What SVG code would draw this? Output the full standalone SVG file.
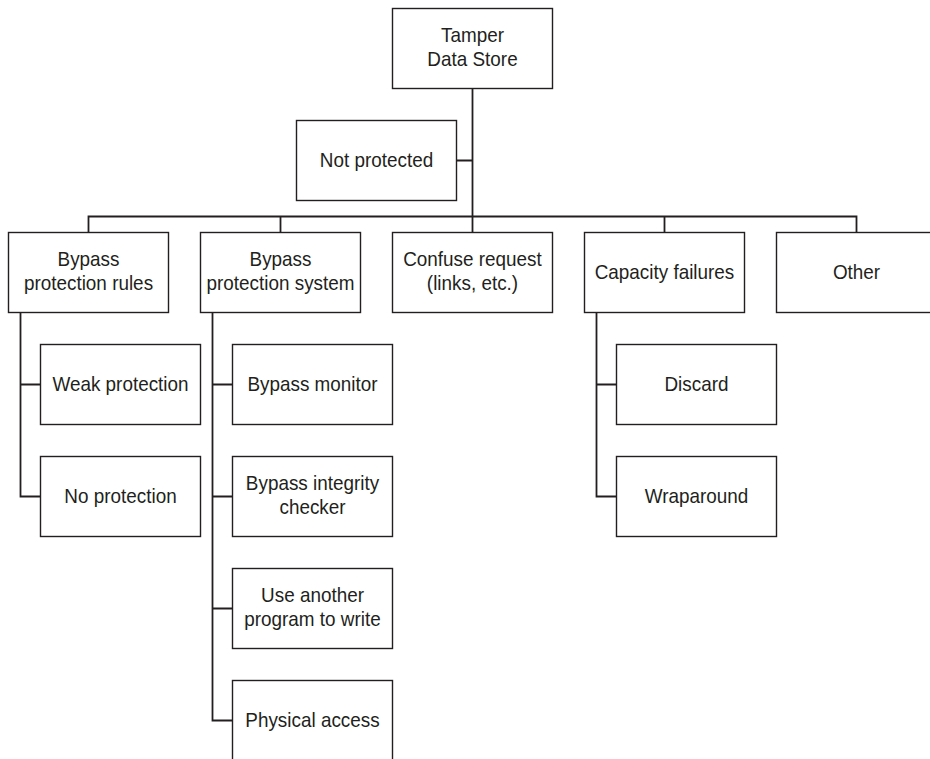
<svg xmlns="http://www.w3.org/2000/svg" width="930" height="759" viewBox="0 0 930 759">
<style>
.box{fill:#fff;stroke:#231f20;stroke-width:1.4}
.ln{fill:none;stroke:#231f20;stroke-width:1.8}
text{font-family:"Liberation Sans",Arial,sans-serif;font-size:21px;fill:#231f20;text-anchor:middle}
</style>
<rect width="930" height="759" fill="#fff"/>
<g id="connectors">
<path class="ln" d="M472.5,88.5V232.5M456.5,160.5H472.5"/>
<path class="ln" d="M88.5,232.5V216.5H856.5V232.5M280.5,216.5V232.5M664.5,216.5V232.5"/>
<path class="ln" d="M20.5,312.5V496.5H40.5M20.5,384.5H40.5"/>
<path class="ln" d="M212.5,312.5V720.5H232.5M212.5,384.5H232.5M212.5,496.5H232.5M212.5,608.5H232.5"/>
<path class="ln" d="M596.5,312.5V496.5H616.5M596.5,384.5H616.5"/>
</g>
<g id="n-root"><rect class="box" x="392.5" y="8.5" width="160" height="80"/><text transform="translate(472.5,42) scale(0.9,1)">Tamper</text><text transform="translate(472.5,66) scale(0.9,1)">Data Store</text></g>
<g id="n-notprot"><rect class="box" x="296.5" y="120.5" width="160" height="80"/><text transform="translate(376.5,167) scale(0.9,1)">Not protected</text></g>
<g id="n-bpr"><rect class="box" x="8.5" y="232.5" width="160" height="80"/><text transform="translate(88.5,266) scale(0.9,1)">Bypass</text><text transform="translate(88.5,290) scale(0.9,1)">protection rules</text></g>
<g id="n-bps"><rect class="box" x="200.5" y="232.5" width="160" height="80"/><text transform="translate(280.5,266) scale(0.9,1)">Bypass</text><text transform="translate(280.5,290) scale(0.9,1)">protection system</text></g>
<g id="n-confuse"><rect class="box" x="392.5" y="232.5" width="160" height="80"/><text transform="translate(472.5,266) scale(0.9,1)">Confuse request</text><text transform="translate(472.5,290) scale(0.9,1)">(links, etc.)</text></g>
<g id="n-capacity"><rect class="box" x="584.5" y="232.5" width="160" height="80"/><text transform="translate(664.5,279) scale(0.9,1)">Capacity failures</text></g>
<g id="n-other"><rect class="box" x="776.5" y="232.5" width="160" height="80"/><text transform="translate(856.5,279) scale(0.9,1)">Other</text></g>
<g id="n-weak"><rect class="box" x="40.5" y="344.5" width="160" height="80"/><text transform="translate(120.5,391) scale(0.9,1)">Weak protection</text></g>
<g id="n-noprot"><rect class="box" x="40.5" y="456.5" width="160" height="80"/><text transform="translate(120.5,503) scale(0.9,1)">No protection</text></g>
<g id="n-monitor"><rect class="box" x="232.5" y="344.5" width="160" height="80"/><text transform="translate(312.5,391) scale(0.9,1)">Bypass monitor</text></g>
<g id="n-integrity"><rect class="box" x="232.5" y="456.5" width="160" height="80"/><text transform="translate(312.5,490) scale(0.9,1)">Bypass integrity</text><text transform="translate(312.5,514) scale(0.9,1)">checker</text></g>
<g id="n-another"><rect class="box" x="232.5" y="568.5" width="160" height="80"/><text transform="translate(312.5,602) scale(0.9,1)">Use another</text><text transform="translate(312.5,626) scale(0.9,1)">program to write</text></g>
<g id="n-physical"><rect class="box" x="232.5" y="680.5" width="160" height="80"/><text transform="translate(312.5,727) scale(0.9,1)">Physical access</text></g>
<g id="n-discard"><rect class="box" x="616.5" y="344.5" width="160" height="80"/><text transform="translate(696.5,391) scale(0.9,1)">Discard</text></g>
<g id="n-wrap"><rect class="box" x="616.5" y="456.5" width="160" height="80"/><text transform="translate(696.5,503) scale(0.9,1)">Wraparound</text></g>
</svg>
